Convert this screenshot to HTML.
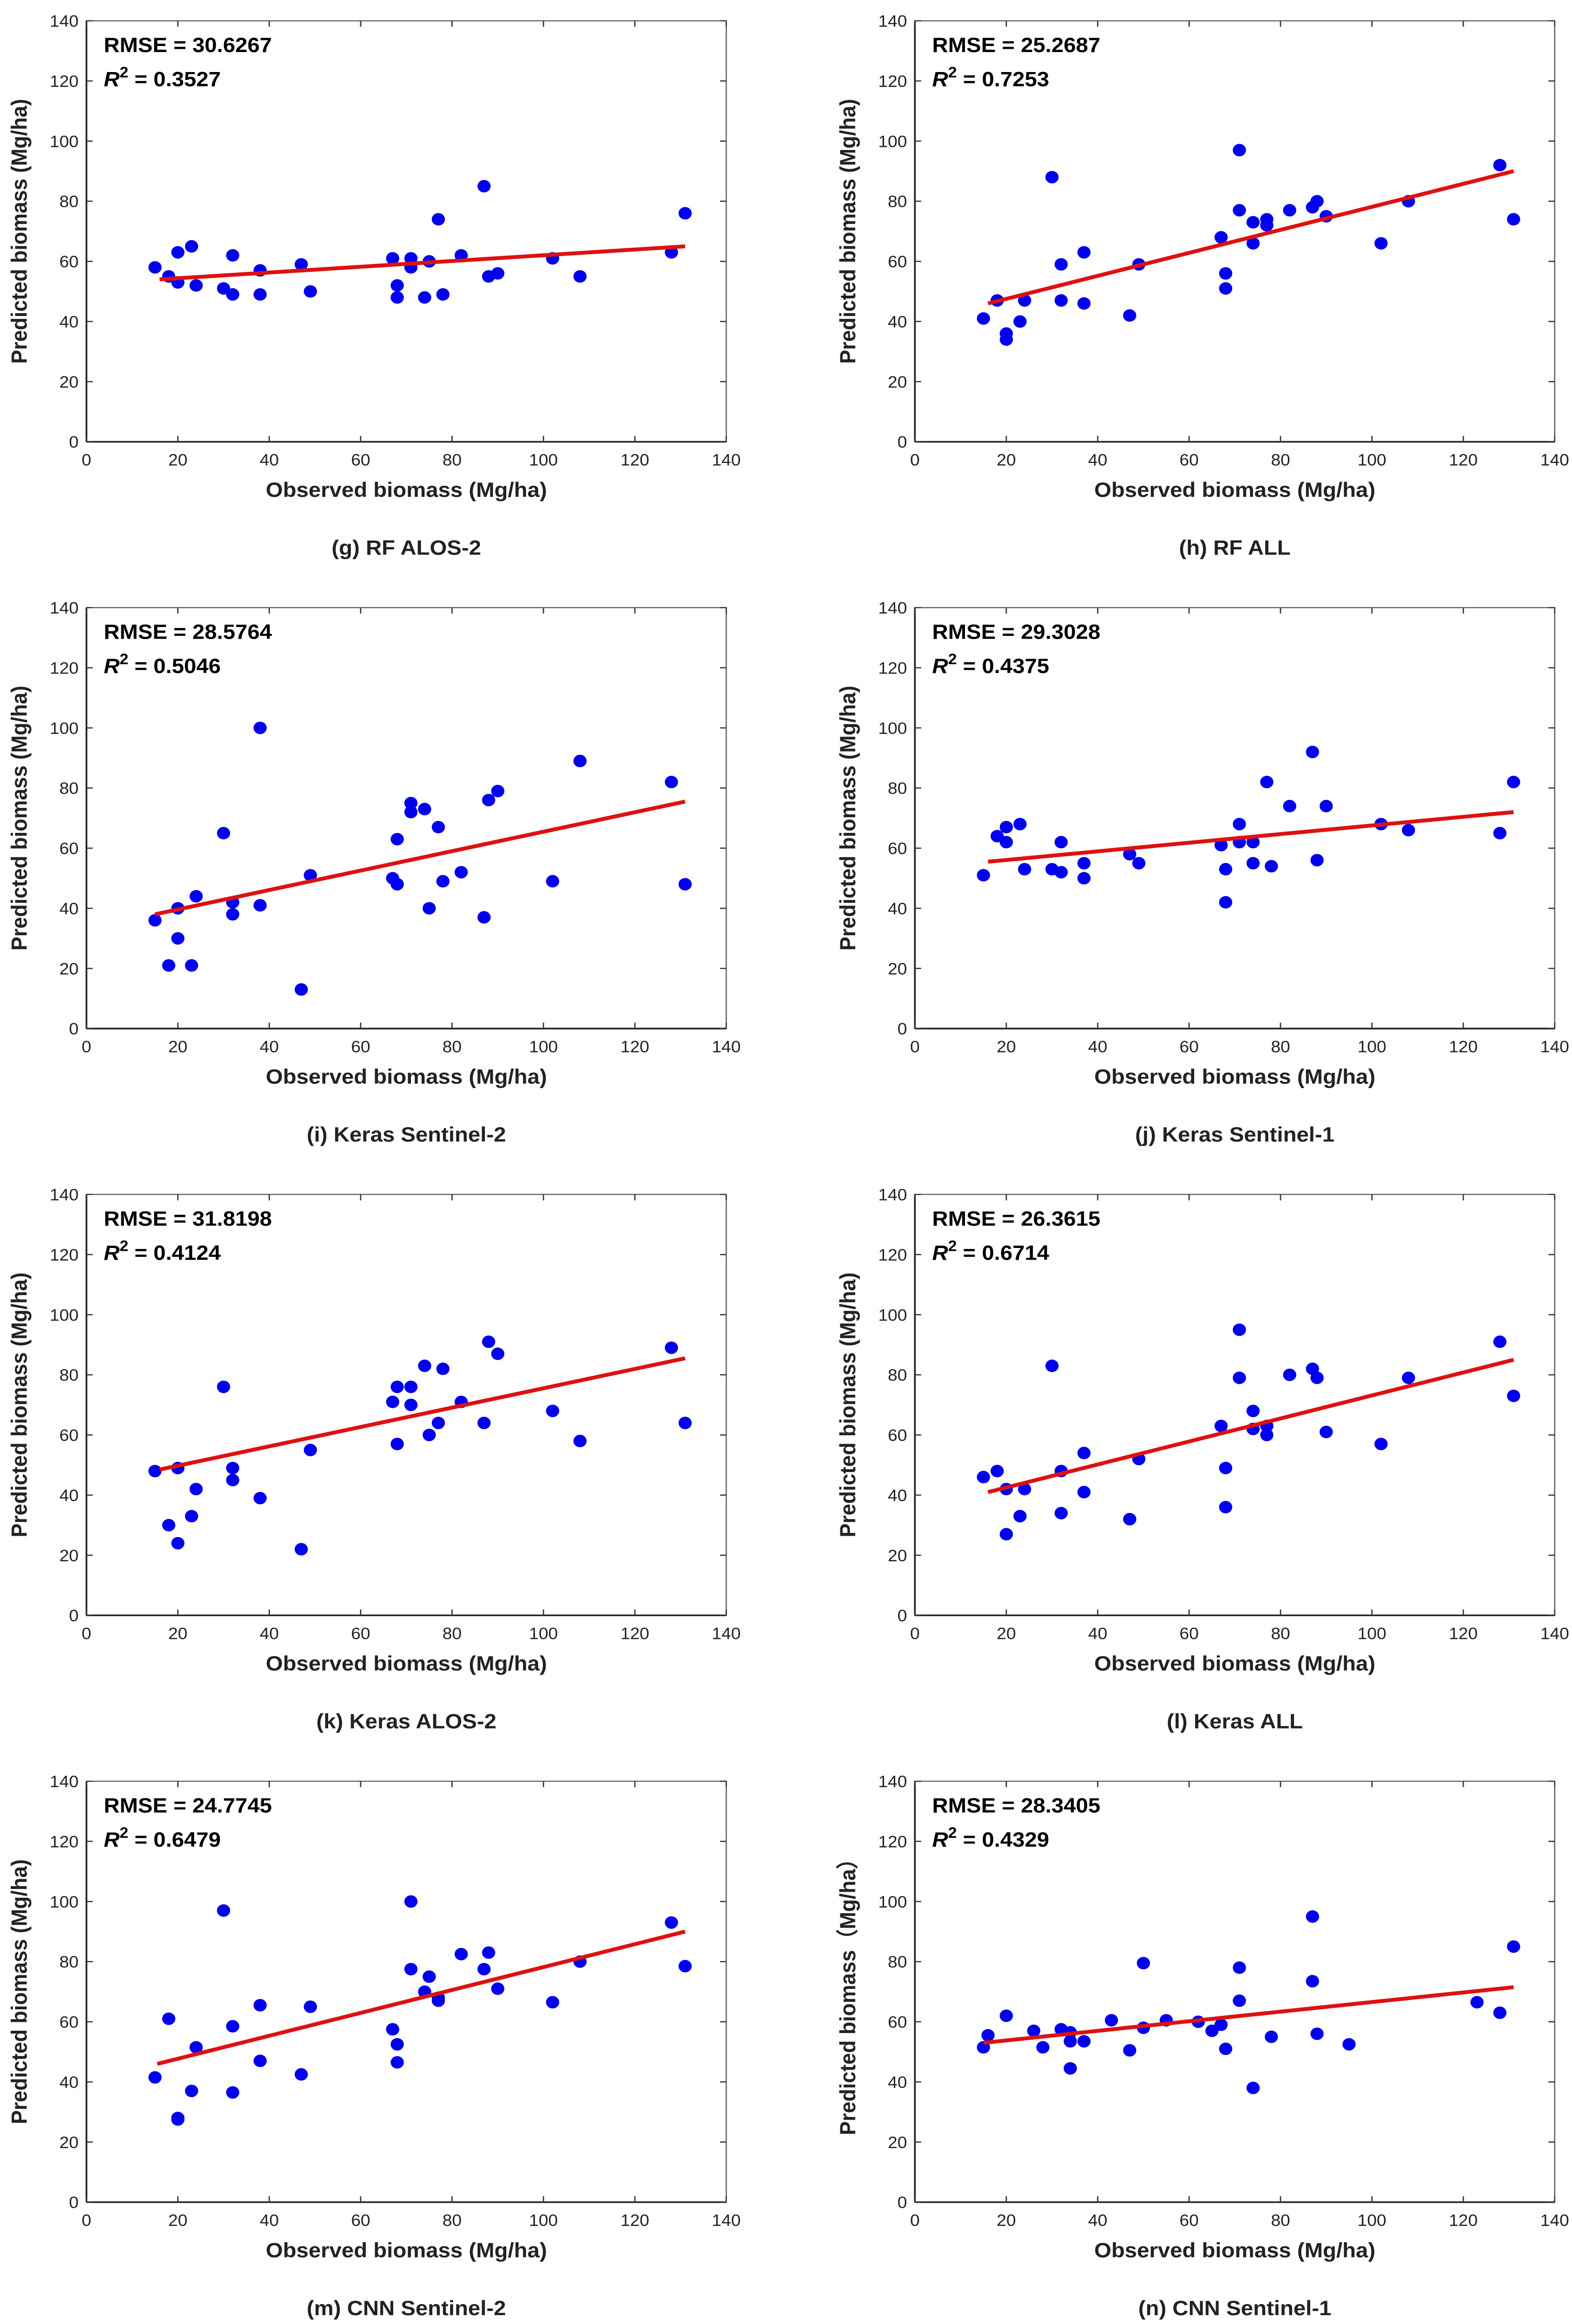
<!DOCTYPE html>
<html><head><meta charset="utf-8">
<style>
html,body{margin:0;padding:0;background:#fff;width:100%;height:100%;overflow:hidden;}
svg{display:block;width:100vw;height:100vh;position:absolute;left:0;top:0;}
</style></head>
<body>
<svg id="fig" viewBox="0 0 1000 1562.4" preserveAspectRatio="none" xmlns="http://www.w3.org/2000/svg" font-family="Liberation Sans, Arial, sans-serif"></svg>
<script>
// ---- data ----
const panelCaptions = ["(g) RF ALOS-2","(h) RF ALL","(i) Keras Sentinel-2","(j) Keras Sentinel-1","(k) Keras ALOS-2","(l) Keras ALL","(m) CNN Sentinel-2","(n) CNN Sentinel-1"];
const rmseValues = ["30.6267","25.2687","28.5764","29.3028","31.8198","26.3615","24.7745","28.3405"];
const r2Values = ["0.3527","0.7253","0.5046","0.4375","0.4124","0.6714","0.6479","0.4329"];
const xTicks = [0,20,40,60,80,100,120,140];
const yTicks = [0,20,40,60,80,100,120,140];
const xObsCommon = [15,18,20,20,23,24,30,32,32,38,38,47,49,67,68,68,71,71,74,75,77,78,82,87,88,90,102,108,128,131];
const gY = [58,55,53,63,65,52,51,62,49,57,49,59,50,61,52,48,61,58,48,60,74,49,62,85,55,56,61,55,63,76];
const hX = [15,18,20,20,23,24,30,32,32,37,37,47,49,67,68,68,71,71,74,74,77,77,82,87,88,90,102,108,128,131];
const hY = [41,47,36,34,40,47,88,47,59,46,63,42,59,68,56,51,97,77,73,66,72,74,77,78,80,75,66,80,92,74];
const iY = [36,21,30,40,21,44,65,38,42,41,100,13,51,50,63,48,75,72,73,40,67,49,52,37,76,79,49,89,82,48];
const jX = [15,18,20,20,23,24,30,32,32,37,37,47,49,67,68,68,71,71,74,74,77,78,82,87,88,90,102,108,128,131];
const jY = [51,64,62,67,68,53,53,62,52,50,55,58,55,61,53,42,68,62,55,62,82,54,74,92,56,74,68,66,65,82];
const kX = [15,18,20,20,23,24,30,32,32,38,47,49,67,68,68,71,71,74,75,77,78,82,87,88,90,102,108,128,131];
const kY = [48,30,24,49,33,42,76,45,49,39,22,55,71,76,57,76,70,83,60,64,82,71,64,91,87,68,58,89,64];
const lX = [15,18,20,20,23,24,30,32,32,37,37,47,49,67,68,68,71,71,74,74,77,77,82,87,88,90,102,108,128,131];
const lY = [46,48,42,27,33,42,83,34,48,41,54,32,52,63,49,36,95,79,62,68,60,63,80,82,79,61,57,79,91,73];
const mX = [15,18,20,20,23,24,30,32,32,38,38,47,49,67,68,68,71,71,74,75,77,77,82,87,88,90,102,108,128,131];
const mY = [41.5,61,27.5,28,37,51.5,97,36.5,58.5,65.5,47,42.5,65,57.5,52.5,46.5,100,77.5,70,75,68,67,82.5,77.5,83,71,66.5,80,93,78.5];
const nX = [15,16,20,26,28,32,34,34,34,37,43,47,50,50,55,62,65,67,68,71,71,74,78,87,87,88,95,123,128,131];
const nY = [51.5,55.5,62,57,51.5,57.5,56.5,44.5,53.5,53.5,60.5,50.5,79.5,58,60.5,60,57,59,51,78,67,38,55,73.5,95,56,52.5,66.5,63,85];
const fitX0 = [16,16,15,16,16,16,15.5,15];
const fitY0 = [54,46,38,55.5,48.5,41,46,53];
const fitX1 = [131,131,131,131,131,131,131,131];
const fitY1 = [65,90,75.5,72,85.5,85,90,71.5];
const seriesX = [xObsCommon,hX,xObsCommon,jX,kX,lX,mX,nX];
const seriesY = [gY,hY,iY,jY,kY,lY,mY,nY];

// ---- layout ----
const NS="http://www.w3.org/2000/svg";
const svg=document.getElementById('fig');
const colLeft=[55,582], rowTop=[14,408.5,803,1197.5], PW=407, PH=283;
const XMAX=140, YMAX=140;
function mk(tag,attrs,parent){const e=document.createElementNS(NS,tag);for(const k in attrs)e.setAttribute(k,attrs[k]);(parent||svg).appendChild(e);return e;}

for(let p=0;p<8;p++){
  const L=colLeft[p%2], T=rowTop[Math.floor(p/2)], B=T+PH, R=L+PW;
  const sx=v=>L+v/XMAX*PW, sy=v=>B-v/YMAX*PH;
  const g=mk('g',{});
  
  
  const box=mk('rect',{x:L,y:T,width:PW,height:PH,fill:'#fff',stroke:'#555','stroke-width':0.7},g);
  
  
  const xa=mk('line',{x1:L,y1:B,x2:R,y2:B,stroke:'#222','stroke-width':1.1},g);
  
  
  const ya=mk('line',{x1:L,y1:T,x2:L,y2:B,stroke:'#222','stroke-width':1.1},g);
  
  
  xTicks.forEach(v=>{
    const x=sx(v);
    mk('line',{x1:x,y1:B,x2:x,y2:B-4,stroke:'#333','stroke-width':0.8},g);
    mk('line',{x1:x,y1:T,x2:x,y2:T+4,stroke:'#333','stroke-width':0.8},g);
    const t=mk('text',{x:x,y:B+16,'text-anchor':'middle','font-size':11,fill:'#222'},g);
    t.textContent=v;
    
    
  });
  yTicks.forEach(v=>{
    const y=sy(v);
    mk('line',{x1:L,y1:y,x2:L+4,y2:y,stroke:'#333','stroke-width':0.8},g);
    mk('line',{x1:R,y1:y,x2:R-4,y2:y,stroke:'#333','stroke-width':0.8},g);
    const t=mk('text',{x:L-5,y:y+4,'text-anchor':'end','font-size':11,fill:'#222'},g);
    t.textContent=v;
    
    
  });
  const xs=seriesX[p], ys=seriesY[p];
  for(let i=0;i<ys.length;i++){
    const c=mk('circle',{cx:sx(xs[i]),cy:sy(ys[i]),r:4.2,fill:'#0000ee'},g);
    
    
  }
  const fl=mk('line',{x1:sx(fitX0[p]),y1:sy(fitY0[p]),x2:sx(fitX1[p]),y2:sy(fitY1[p]),stroke:'#dd1111','stroke-width':2.6},g);
  
  
  const t1=mk('text',{x:L+11,y:T+21,'font-size':14,'font-weight':'bold',fill:'#000'},g);
  t1.textContent='RMSE = '+rmseValues[p];
  
  
  const t2=mk('text',{x:L+11,y:T+44,'font-size':14,'font-weight':'bold',fill:'#000'},g);
  
  
  const s1=mk('tspan',{'font-style':'italic'},t2); s1.textContent='R';
  const s2=mk('tspan',{dy:-6,'font-size':10},t2); s2.textContent='2';
  const s3=mk('tspan',{dy:6},t2); s3.textContent=' = '+r2Values[p];
  const xt=mk('text',{x:(L+R)/2,y:B+37,'text-anchor':'middle','font-size':14,'font-weight':'bold',fill:'#222'},g);
  xt.textContent='Observed biomass (Mg/ha)';
  
  
  const yx=L-38, yy=(T+B)/2;
  const yt=mk('text',{x:yx,y:yy,'text-anchor':'middle','font-size':14,'font-weight':'bold',fill:'#222',transform:'rotate(-90 '+yx+' '+yy+')'},g);
  yt.textContent = p===7 ? 'Predicted biomass（Mg/ha）' : 'Predicted biomass (Mg/ha)';
  
  
  const cap=mk('text',{x:(L+R)/2,y:B+76,'text-anchor':'middle','font-size':14,'font-weight':'bold',fill:'#222'},g);
  cap.textContent=panelCaptions[p];
  
  
}
</script>
</body></html>
